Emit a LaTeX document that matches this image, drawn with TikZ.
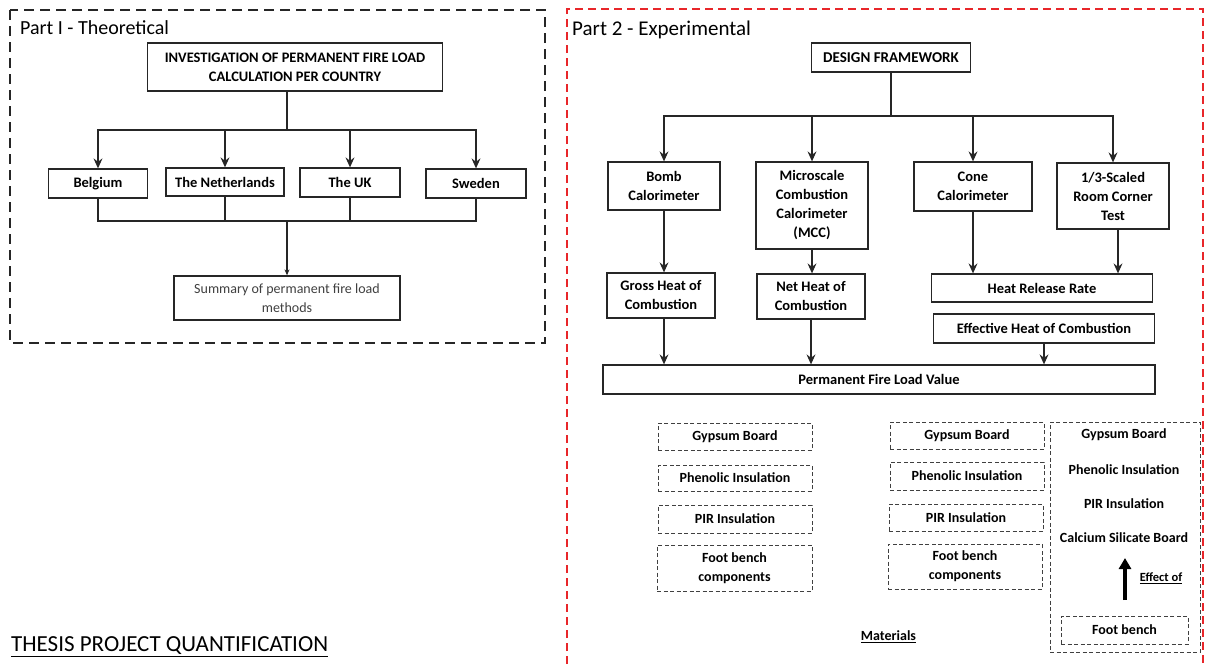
\documentclass[tikz,border=0pt]{standalone}
\usepackage{fontspec}
\setmainfont{Carlito}
\usetikzlibrary{arrows.meta}
\definecolor{redline}{HTML}{E8262A}
\definecolor{ink}{HTML}{262626}
\begin{document}
\begin{tikzpicture}[x=1pt,y=-1pt,
  box/.style={draw=ink, line width=1.3pt, fill=white, align=center, inner sep=0pt, font=\bfseries\fontsize{14.5}{19}\selectfont},
  lbox/.style={draw=ink, line width=1.3pt, fill=white, align=center, inner sep=0pt, text=black!75, font=\fontsize{14}{19}\selectfont},
  dbox/.style={draw=black!75, line width=0.9pt, dash pattern=on 4pt off 2.5pt, align=center, inner sep=0pt, font=\bfseries\fontsize{14}{19}\selectfont},
  plain/.style={align=center, inner sep=0pt, font=\bfseries\fontsize{14}{19}\selectfont},
  arr/.style={-{Stealth[length=10pt,width=9pt,inset=3.5pt]}, line width=1.2pt, draw=ink},
  sarr/.style={-{Stealth[length=6pt,width=5pt,inset=2pt]}, line width=1.1pt, draw=ink},
  ln/.style={line width=1.2pt, draw=ink}]
\useasboundingbox (0,0) rectangle (1207,664);

% frames
\draw[line width=2.5pt, dash pattern=on 10pt off 6pt, draw=ink] (10,10) rectangle (545,343);
\draw[line width=1.8pt, dash pattern=on 8pt off 5pt, draw=redline] (567,664) -- (567,9) -- (1203,9) -- (1203,664);

% titles
\node[anchor=west, inner sep=0pt, font=\fontsize{20}{24}\selectfont] (t1) at (20,28) {Part I - Theoretical};
\node[anchor=west, inner sep=0pt, font=\fontsize{21}{24}\selectfont] (t2) at (572,30) {Part 2 - Experimental};
\node[anchor=west, inner sep=0pt, font=\fontsize{23}{26}\selectfont] (thesis) at (11,647) {\underline{THESIS PROJECT QUANTIFICATION}};

% Part I
\node[box, minimum width=295.5pt, minimum height=48pt] (inv) at (295,67)
  {INVESTIGATION OF PERMANENT FIRE LOAD\\CALCULATION PER COUNTRY};
\node[box, minimum width=98.5pt, minimum height=29pt] (bel) at (98,183.5) {Belgium};
\node[box, minimum width=118pt, minimum height=28pt] (neth) at (225,182) {The Netherlands};
\node[box, minimum width=100pt, minimum height=29pt] (uk) at (350,182.5) {The UK};
\node[box, minimum width=100pt, minimum height=29pt] (swe) at (476,183.5) {Sweden};
\node[lbox, minimum width=226pt, minimum height=44pt] (sum) at (287,298)
  {Summary of permanent fire load\\methods};

\coordinate (j1) at (287,130);
\coordinate (j2) at (287,221);
\draw[ln] (j1 |- inv.south) -- (j1);
\foreach \n in {bel,neth,uk,swe} {
  \draw[arr] (j1) -| (\n.north);
  \draw[ln] (\n.south) |- (j2);
}
\draw[sarr] (j2) -- (sum.north);

% Part 2
\node[box, minimum width=159pt, minimum height=29pt, font=\bfseries\fontsize{15}{19}\selectfont] (df) at (891,57.5) {DESIGN FRAMEWORK};
\node[box, minimum width=112pt, minimum height=48pt] (bomb) at (664,186) {Bomb\\Calorimeter};
\node[box, minimum width=112pt, minimum height=87pt] (mcc) at (812,205.5) {Microscale\\Combustion\\Calorimeter\\(MCC)};
\node[box, minimum width=118pt, minimum height=49pt] (cone) at (973,186.5) {Cone\\Calorimeter};
\node[box, minimum width=112pt, minimum height=66pt] (room) at (1113,196) {1/3-Scaled\\Room Corner\\Test};
\node[box, minimum width=108pt, minimum height=45pt] (gross) at (661,295.5) {Gross Heat of\\Combustion};
\node[box, minimum width=108pt, minimum height=45pt] (net) at (811,296.5) {Net Heat of\\Combustion};
\node[box, minimum width=221.5pt, minimum height=28pt] (hrr) at (1042,288) {Heat Release Rate};
\node[box, minimum width=221.5pt, minimum height=29pt] (ehc) at (1044,328.5) {Effective Heat of Combustion};
\node[box, minimum width=552pt, minimum height=29pt] (pflv) at (879,379.5) {Permanent Fire Load Value};

\coordinate (j3) at (891,116);
\draw[ln] (df.south) -- (j3);
\foreach \n in {bomb,mcc,cone,room} {
  \draw[arr] (j3) -| (\n.north);
}
\draw[arr] (bomb.south) -- (bomb.south |- gross.north);
\draw[arr] (mcc.south) -- (mcc.south |- net.north);
\draw[arr] (cone.south) -- (cone.south |- hrr.north);
\draw[arr] ([xshift=5pt]room.south) -- ([xshift=5pt]room.south |- hrr.north);
\draw[arr] ([xshift=3pt]gross.south) -- ([xshift=3pt]gross.south |- pflv.north);
\draw[arr] (net.south) -- (net.south |- pflv.north);
\draw[arr] (ehc.south) -- (ehc.south |- pflv.north);

% Materials
\node[dbox, minimum width=154pt, minimum height=27pt] (g1) at (735,436.5) {Gypsum Board};
\node[dbox, minimum width=154pt, minimum height=26pt] (p1) at (735,478) {Phenolic Insulation};
\node[dbox, minimum width=154pt, minimum height=28pt] (r1) at (735,519) {PIR Insulation};
\node[dbox, minimum width=155pt, minimum height=46pt] (f1) at (734.5,568) {Foot bench\\components};

\node[dbox, minimum width=154pt, minimum height=27pt] (g2) at (967,435.5) {Gypsum Board};
\node[dbox, minimum width=154pt, minimum height=28pt] (p2) at (967,476) {Phenolic Insulation};
\node[dbox, minimum width=154pt, minimum height=27pt] (r2) at (966,517.5) {PIR Insulation};
\node[dbox, minimum width=154pt, minimum height=45pt] (f2) at (965,566.5) {Foot bench\\components};

\node[dbox, minimum width=150pt, minimum height=230pt] (big) at (1125,537) {};
\node[plain] (g3) at (1124,435) {Gypsum Board};
\node[plain] (p3) at (1124,470) {Phenolic Insulation};
\node[plain] (r3) at (1124,504) {PIR Insulation};
\node[plain] (c3) at (1124,538) {Calcium Silicate Board};
\node[dbox, minimum width=127pt, minimum height=28pt] (fb) at (1124.5,630) {Foot bench};
\coordinate (ea) at (1125,600);
\coordinate (eb) at (1125,558);
\draw[line width=4pt, -{Triangle[length=11pt,width=12pt]}, draw=black] (ea) -- (eb);
\node[plain, font=\bfseries\fontsize{12.5}{15}\selectfont] (eff) at (1161,578) {\underline{Effect of}};
\node[plain] (mat) at (888.5,637) {\underline{Materials}};
\end{tikzpicture}
\end{document}
